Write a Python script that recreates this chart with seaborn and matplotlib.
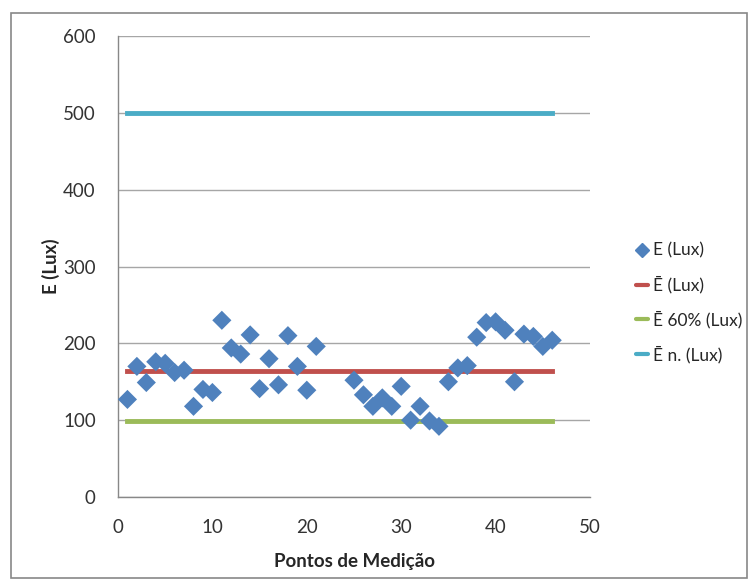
import numpy as np
import pandas as pd
import matplotlib
matplotlib.use("Agg")
import matplotlib.pyplot as plt
import seaborn as sns
from matplotlib.lines import Line2D
from matplotlib.patches import Rectangle

# Measurement points (22-24 were not measured)
pontos = [1, 2, 3, 4, 5, 6, 7, 8, 9, 10, 11, 12, 13, 14, 15, 16, 17, 18, 19, 20, 21,
          25, 26, 27, 28, 29, 30, 31, 32, 33, 34, 35, 36, 37, 38, 39, 40, 41, 42, 43, 44, 45, 46]
lux = [127, 170, 149, 176, 174, 162, 165, 118, 140, 136, 230, 194, 186, 211, 141, 180, 146, 210, 170, 139, 196,
       152, 133, 118, 129, 118, 144, 100, 118, 99, 92, 150, 168, 171, 208, 227, 228, 217, 150, 212, 209, 196, 204]

linha_x = [1, 46]
e_medio = [164, 164]
e_60 = [99, 99]
e_norma = [500, 500]

labels = ["E (Lux)", "Ē (Lux)", "Ē 60% (Lux)", "Ē n. (Lux)"]
cores = ["#4F81BD", "#C0504D", "#9BBB59", "#4BACC6"]

sns.set_style("white")
plt.rcParams["font.family"] = ["Lato", "DejaVu Sans"]

fig = plt.figure(figsize=(7.54, 5.84), dpi=100)
ax = fig.add_axes([118 / 754, 1 - 497 / 584, (590 - 118) / 754, (497 - 36) / 584])

# outer chart border
fig.patches.append(Rectangle((11 / 754, 6 / 584), 736 / 754, 565 / 584, transform=fig.transFigure,
                             fill=False, edgecolor="#888888", linewidth=1.2))

df_pts = pd.DataFrame({"x": pontos, "y": lux})
sns.scatterplot(data=df_pts, x="x", y="y", ax=ax, marker="D", s=95, color=cores[0],
                edgecolor="none", zorder=4)

for vals, cor in zip([e_medio, e_60, e_norma], cores[1:]):
    d = pd.DataFrame({"x": linha_x, "y": vals})
    sns.lineplot(data=d, x="x", y="y", ax=ax, color=cor, linewidth=3.5, zorder=3,
                 solid_capstyle="projecting")

ax.set_xlim(0, 50)
ax.set_ylim(0, 600)
ax.set_xticks(range(0, 51, 10))
ax.set_yticks(range(0, 601, 100))
ax.yaxis.grid(True, color="#a6a6a6", linewidth=1)
ax.set_axisbelow(True)
for s in ["top", "right"]:
    ax.spines[s].set_visible(False)
for s in ["left", "bottom"]:
    ax.spines[s].set_color("#888888")
    ax.spines[s].set_linewidth(1)
ax.tick_params(axis="both", labelsize=13.5, colors="#333333", length=0)
ax.tick_params(axis="x", pad=16)
ax.tick_params(axis="y", pad=16)
ax.set_xlabel("Pontos de Medição", fontsize=13.5, fontweight="bold", labelpad=12)
ax.set_ylabel("E (Lux)", fontsize=13.5, fontweight="bold", labelpad=2)

handles = [
    Line2D([], [], marker="D", linestyle="none", color=cores[0], markersize=7),
    Line2D([], [], color=cores[1], linewidth=3),
    Line2D([], [], color=cores[2], linewidth=3),
    Line2D([], [], color=cores[3], linewidth=3),
]
fig.legend(handles, labels, loc="center left", bbox_to_anchor=(620 / 754, 1 - 303 / 584),
           frameon=False, fontsize=12.5, handlelength=0.7, handletextpad=0.3, labelspacing=1.0)

fig.savefig("out.png", dpi=100)
